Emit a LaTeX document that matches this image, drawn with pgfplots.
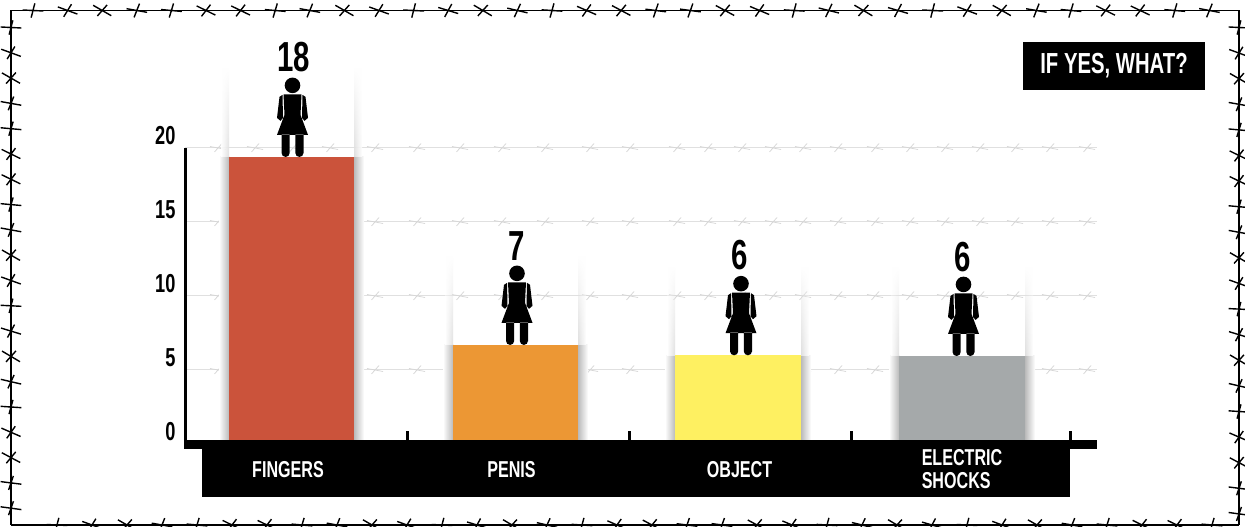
\documentclass[border=0pt]{standalone}
\usepackage{fontspec}
\usepackage{pgfplots}
\pgfplotsset{compat=1.18}
\usepackage{pgfplotstable}
\usetikzlibrary{decorations.markings,fadings}
\newfontfamily\kn[FakeStretch=0.7,UprightFont={* Bold}]{Liberation Sans}
\newcommand{\knsize}[1]{\kn\fontsize{#1}{#1}\selectfont}
\definecolor{cred}{HTML}{CB533B}
\definecolor{corange}{HTML}{EC9734}
\definecolor{cyellow}{HTML}{FEF061}
\definecolor{cgray}{HTML}{A5A9AA}
\definecolor{wire}{HTML}{E0E0E0}

% woman pictogram, origin between the feet
\pgfdeclareplotmark{woman}{%
  \pgfpathcircle{\pgfpoint{0pt}{71.5pt}}{7.8pt}
  \pgfpathmoveto{\pgfpoint{-9pt}{62.5pt}}
  \pgfpathlineto{\pgfpoint{9pt}{62.5pt}}
  \pgfpathlineto{\pgfpoint{8pt}{42pt}}
  \pgfpathlineto{\pgfpoint{15.5pt}{22pt}}
  \pgfpathlineto{\pgfpoint{-15.5pt}{22pt}}
  \pgfpathlineto{\pgfpoint{-8pt}{42pt}}
  \pgfpathclose
  \pgfpathmoveto{\pgfpoint{-10pt}{62pt}}
  \pgfpathlineto{\pgfpoint{-13pt}{60pt}}
  \pgfpathlineto{\pgfpoint{-15.5pt}{39pt}}
  \pgfpathlineto{\pgfpoint{-12pt}{36pt}}
  \pgfpathlineto{\pgfpoint{-9.5pt}{39pt}}
  \pgfpathclose
  \pgfpathmoveto{\pgfpoint{10pt}{62pt}}
  \pgfpathlineto{\pgfpoint{13pt}{60pt}}
  \pgfpathlineto{\pgfpoint{15.5pt}{39pt}}
  \pgfpathlineto{\pgfpoint{12pt}{36pt}}
  \pgfpathlineto{\pgfpoint{9.5pt}{39pt}}
  \pgfpathclose
  \pgfpathrectangle{\pgfpoint{-11pt}{3.5pt}}{\pgfpoint{8.2pt}{19pt}}
  \pgfpathrectangle{\pgfpoint{2.8pt}{3.5pt}}{\pgfpoint{8.2pt}{19pt}}
  \pgfpathcircle{\pgfpoint{-6.9pt}{4pt}}{4.1pt}
  \pgfpathcircle{\pgfpoint{6.9pt}{4pt}}{4.1pt}
  \pgfusepathqfill
}
% faint barb on the grid wires
\pgfdeclareplotmark{barb}{%
  \pgfsetlinewidth{0.7pt}
  \pgfpathmoveto{\pgfpoint{-8pt}{1.5pt}}
  \pgfpathlineto{\pgfpoint{8pt}{-1.5pt}}
  \pgfpathmoveto{\pgfpoint{-3.5pt}{-4pt}}
  \pgfpathlineto{\pgfpoint{4pt}{4.5pt}}
  \pgfusepathqstroke
}

% wire with barbs: first barb, step, turn against the path direction
\tikzset{
  wireedge/.style n args={3}{
    line width=1.8pt, black,
    postaction={decorate, decoration={markings,
      mark=between positions #1 and 1 step #2 with {
        \pgfmathsetmacro{\rot}{#3+14*sin(97*\pgfkeysvalueof{/pgf/decoration/mark info/sequence number})}
        \draw[black, line width=1.4pt, rotate=\rot] (-10pt,3pt)--(10pt,-3pt) (-3.5pt,-6.5pt)--(3.5pt,6.5pt);
      }}}
  },
}

\pgfplotstableread{
x
218
255
293
330
375
417
460
502
545
590
630
677
708
742
773
803
838
875
910
945
980
1015
1050
1087
}\barbs

\begin{document}
\begin{tikzpicture}[x=1pt,y=1pt]
\useasboundingbox (0,0) rectangle (1245,527);
\fill[white] (0,0) rectangle (1245,527);

% barbed frame
\draw[wireedge={22pt}{34.6pt}{0}] (11,516.5) -- (1239,516.5);
\draw[wireedge={46pt}{35pt}{0}] (11,2) -- (1239,2);
\draw[wireedge={17pt}{25.3pt}{90}] (11,516.5) -- (11,2);
\draw[wireedge={17pt}{25.6pt}{90}] (1239,516.5) -- (1239,2);

% category band
\fill[black] (202,30) rectangle (1070,78);

% title box
\fill[black] (1023,437) rectangle (1205,485);
\node[white,font=\knsize{29}] at (1114,461) {IF YES, WHAT?};

\begin{axis}[
  at={(185pt,83pt)}, anchor=origin,
  scale only axis, width=912pt, height=296pt,
  xmin=185, xmax=1097, ymin=0, ymax=20,
  clip=false, clip mode=individual,
  axis lines=left,
  axis line style={-},
  x axis line style={draw=none},
  y axis line style={line width=3pt},
  ytick={0,5,10,15,20},
  ymajorgrids,
  grid style={wire,line width=1pt},
  major tick length=0pt,
  ytick style={draw=none},
  xtick={288,511.5,739.5,962},
  xticklabels={FINGERS,PENIS,OBJECT,{ELECTRIC\\SHOCKS}},
  x tick style={draw=none},
  extra x ticks={407,629,851,1070},
  extra x tick labels={},
  extra x tick style={major tick length=13pt,tick align=inside,
    x tick style={draw=black,line width=3pt}},
  /pgf/number format/assume math mode=true,
  y tick label style={font=\knsize{26},anchor=east,xshift=-6pt,yshift=12pt},
  x tick label style={font=\knsize{23},text=white,anchor=center,align=left,
    yshift=-25.5pt},
]
\pgfplotsinvokeforeach{5,10,15,20}{
  \addplot[only marks,mark=barb,color=wire!90!gray] table[x index=0,y index=0,y expr=#1] {\barbs};
}

% soft shadows beside the bars
\foreach \l/\r/\h in {229/354/19.4, 453/578/6.7, 675/801/6.0, 899/1025/5.95}{
  \edef\tmp{\noexpand\shade[left color=white,right color=black!27,draw=none]
      (axis cs:\l-10,0) rectangle (axis cs:\l,\h);
    \noexpand\shade[left color=black!27,right color=white,draw=none]
      (axis cs:\r,0) rectangle (axis cs:\r+10,\h);
    \noexpand\shade[left color=white,right color=black!12,draw=none,path fading=north]
      (axis cs:\l-8,\h) rectangle (axis cs:\l,\h+6);
    \noexpand\shade[left color=black!12,right color=white,draw=none,path fading=north]
      (axis cs:\r,\h) rectangle (axis cs:\r+8,\h+6);}
  \tmp
}

\addplot[ybar,bar width=125pt,bar shift=0pt,fill=cred,draw=none] coordinates {(291.5,19.4)};
\addplot[ybar,bar width=125pt,bar shift=0pt,fill=corange,draw=none] coordinates {(515.5,6.7)};
\addplot[ybar,bar width=126pt,bar shift=0pt,fill=cyellow,draw=none] coordinates {(738,6.0)};
\addplot[ybar,bar width=126pt,bar shift=0pt,fill=cgray,draw=none] coordinates {(962,5.95)};

\addplot[only marks,mark=woman,black] coordinates {
  (292.5,19.4) (517,6.7) (741,6.0) (963.5,5.95)};

\node[font=\knsize{42}] at (axis cs:294,26.15) {18};
\node[font=\knsize{42}] at (axis cs:517,13.38) {7};
\node[font=\knsize{42}] at (axis cs:740,12.77) {6};
\node[font=\knsize{42}] at (axis cs:963,12.64) {6};
\end{axis}

% heavy base bar over the foot of the bars
\fill[black] (184,78) rectangle (1097,87);
\end{tikzpicture}
\end{document}
